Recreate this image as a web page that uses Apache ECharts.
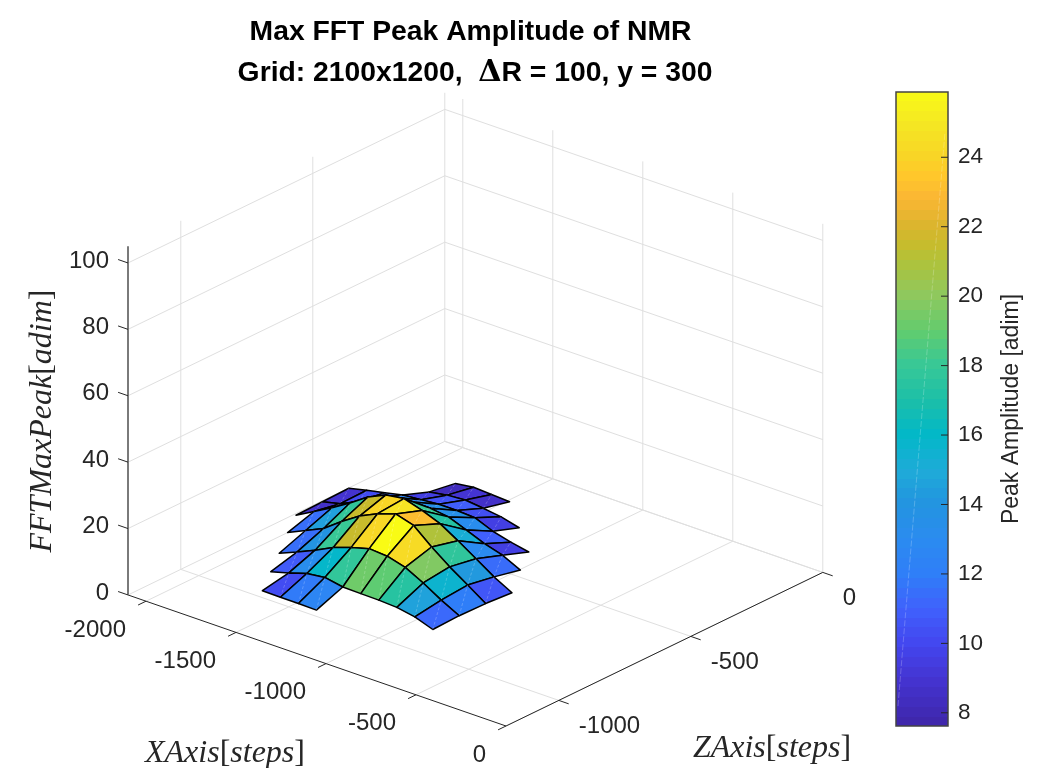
<!DOCTYPE html>
<html>
<head>
<meta charset="utf-8">
<style>
  html, body { margin: 0; padding: 0; background: #fff; }
  #chart { width: 1037px; height: 768px; }
</style>
<script src="https://cdn.jsdelivr.net/npm/echarts@6/dist/echarts.min.js"></script>
</head>
<body>
<div id="chart"></div>
<script>
// grid positions of the surface, in steps
var xSteps = [-1900, -1800, -1700, -1600, -1500, -1400, -1300, -1200, -1100, -1000, -900, -800, -700]
var zSteps = [-1100, -1000, -900, -800, -700, -600, -500, -400, -300]

// peak amplitude, one row per zSteps entry, one column per xSteps entry
var row0 = [null, null, null, null, 8.7, 8.6, 8.6, 8.5, null, null, null, null, null]
var row1 = [null, null, null, 8.7, 10.2, 11.9, 12.6, 11.6, 11.5, 11.4, 11.1, 10.1, 8.2]
var row2 = [null, null, 8.5, 10.8, 13.2, 15.9, 17.8, 19.3, 18.9, 17.4, 14.6, 11.3, 8.5]
var row3 = [null, 9, 11.5, 14, 18, 21.5, 24.1, 25.9, 24.3, 19.7, 15.6, 12, 8.3]
var row4 = [8.5, 11.5, 14.5, 17.8, 21.5, 24, 24.8, 23.1, 21, 17.7, 14.2, 10.6, 7.7]
var row5 = [8.7, 10, 12.5, 15.5, 17.5, 18, 18, 17.3, 15.2, 13, 11.4, 8.8, null]
var row6 = [8.9, 10.2, 11.3, 12.5, 13, 13.5, 13.5, 13.2, 11, 9.6, 8.5, null, null]
var row7 = [null, null, null, 9.6, 10.5, 10.9, 10.3, 9.6, 8.2, null, null, null, null]
var row8 = [null, null, null, 8.3, 9, 8.7, 8.4, null, null, null, null, null, null]
var peakRows = [row0, row1, row2, row3, row4, row5, row6, row7, row8]

// axes
var xTicks = [-2000, -1500, -1000, -500, 0]
var zTicks = [-1000, -500, 0]
var yTicks = [0, 20, 40, 60, 80, 100]
var barTicks = [8, 10, 12, 14, 16, 18, 20, 22, 24]
var xMin = -2100
var zMin = -1200
var yTop = 105
var barMin = 7.62
var barMax = 25.88

// colormap anchors
var mapValues = [7.62, 9, 10, 11, 12, 13, 14, 15, 16, 17, 18, 19, 20, 21, 21.5, 22, 22.8, 23.5, 24, 25, 25.88]
var mapColors = ['#3e26a8', '#4434d2', '#4347ef', '#4060fc', '#2f7ef8', '#2b8bf0', '#2394e0', '#1eabd8', '#02b8c8',
  '#1cbfa8', '#38c896', '#62cc6e', '#8ec85e', '#b0c23a', '#c8bb2c', '#dbb52e', '#fbb634', '#ffc82a', '#f8d526', '#f5e823', '#f9fb15']

var axisColor = '#262626'
var gridColor = '#dfdfdf'
var tickFont = '24px "Liberation Sans", Arial, sans-serif'

function toRgb(hex) {
  return [parseInt(hex.slice(1, 3), 16), parseInt(hex.slice(3, 5), 16), parseInt(hex.slice(5, 7), 16)]
}

function colorOf(v) {
  var k = 0
  while (k < mapValues.length - 2 && v > mapValues[k + 1]) k++
  var t = Math.min(1, Math.max(0, (v - mapValues[k]) / (mapValues[k + 1] - mapValues[k])))
  var a = toRgb(mapColors[k])
  var b = toRgb(mapColors[k + 1])
  return 'rgb(' + a.map(function (c, n) { return Math.round(c + (b[n] - c) * t) }).join(',') + ')'
}

// oblique view of the box, result is in the units of the hidden cartesian axes
function project(x, y, z) {
  var w = z - zMin
  return [506 + 0.18 * x + 0.264 * w, 726 + 0.0624 * x - 0.128 * w - 3.32 * y]
}

function lineShape(api, a, b, color, width) {
  var p = api.coord(project(a[0], a[1], a[2]))
  var q = api.coord(project(b[0], b[1], b[2]))
  return {
    type: 'line',
    shape: { x1: p[0], y1: p[1], x2: q[0], y2: q[1] },
    style: { stroke: color, lineWidth: width }
  }
}

function labelAt(api, at, dx, dy, text, align) {
  var p = api.coord(project(at[0], at[1], at[2]))
  return {
    type: 'text',
    style: { x: p[0] + dx, y: p[1] + dy, text: text, font: tickFont, fill: axisColor, align: align, verticalAlign: 'middle' }
  }
}

function renderGrid(params, api) {
  var kids = []
  xTicks.forEach(function (x) {
    kids.push(lineShape(api, [x, 0, zMin], [x, 0, 0], gridColor, 1))
    kids.push(lineShape(api, [x, 0, 0], [x, yTop, 0], gridColor, 1))
  })
  zTicks.forEach(function (z) {
    kids.push(lineShape(api, [xMin, 0, z], [0, 0, z], gridColor, 1))
    kids.push(lineShape(api, [xMin, 0, z], [xMin, yTop, z], gridColor, 1))
  })
  yTicks.forEach(function (y) {
    kids.push(lineShape(api, [xMin, y, zMin], [xMin, y, 0], gridColor, 1))
    kids.push(lineShape(api, [xMin, y, 0], [0, y, 0], gridColor, 1))
  })
  return { type: 'group', children: kids }
}

function renderAxes(params, api) {
  var kids = []
  kids.push(lineShape(api, [xMin, 0, zMin], [0, 0, zMin], axisColor, 1))
  kids.push(lineShape(api, [0, 0, zMin], [0, 0, 0], axisColor, 1))
  kids.push(lineShape(api, [xMin, 0, zMin], [xMin, yTop, zMin], '#7a7a7a', 2))
  xTicks.forEach(function (x) {
    kids.push(lineShape(api, [x, 0, zMin], [x, 0, zMin - 30], axisColor, 1))
    kids.push(labelAt(api, [x, 0, zMin], -20, 29, String(x), 'right'))
  })
  zTicks.forEach(function (z) {
    kids.push(lineShape(api, [0, 0, z], [55, 0, z], axisColor, 1))
    kids.push(labelAt(api, [0, 0, z], 20, 26, String(z), 'left'))
  })
  yTicks.forEach(function (y) {
    kids.push(lineShape(api, [xMin, y, zMin], [xMin - 55, y, zMin], axisColor, 1))
    kids.push(labelAt(api, [xMin, y, zMin], -19, -2, String(y), 'right'))
  })
  return { type: 'group', children: kids }
}

// faces listed back to front so the nearer ones paint over the farther ones
var faces = []
for (var j = zSteps.length - 2; j >= 0; j--) {
  for (var i = 0; i < xSteps.length - 1; i++) {
    if (peakRows[j][i] !== null && peakRows[j][i + 1] !== null && peakRows[j + 1][i] !== null && peakRows[j + 1][i + 1] !== null) {
      faces.push([i, j])
    }
  }
}

function renderFace(params, api) {
  var i = api.value(0)
  var j = api.value(1)
  var corner = function (a, b) {
    return api.coord(project(xSteps[a], peakRows[b][a], zSteps[b]))
  }
  var p0 = corner(i, j)
  var p1 = corner(i + 1, j)
  var p2 = corner(i + 1, j + 1)
  var p3 = corner(i, j + 1)
  return {
    type: 'group',
    children: [
      {
        type: 'polygon',
        shape: { points: [p0, p1, p2, p3] },
        style: { fill: colorOf(peakRows[j + 1][i]), stroke: '#000', lineWidth: 1.5, lineJoin: 'round' }
      },
      {
        // faint triangle seam left by the renderer
        type: 'line',
        shape: { x1: p1[0], y1: p1[1], x2: p3[0], y2: p3[1] },
        style: { stroke: 'rgba(255,255,255,0.22)', lineWidth: 1, lineDash: [3, 2] }
      }
    ]
  }
}

function renderBar(params, api) {
  var a = api.coord([0, barMin])
  var b = api.coord([1, barMax])
  var stops = []
  var bands = 64
  for (var k = 0; k < bands; k++) {
    var c = colorOf(barMin + (barMax - barMin) * (k + 0.5) / bands)
    stops.push({ offset: k / bands, color: c })
    stops.push({ offset: (k + 1) / bands, color: c })
  }
  var kids = [
    {
      type: 'rect',
      shape: { x: a[0], y: b[1], width: b[0] - a[0], height: a[1] - b[1] },
      style: { fill: new echarts.graphic.LinearGradient(0, 1, 0, 0, stops), stroke: '#444', lineWidth: 1.5 }
    },
    {
      type: 'line',
      shape: { x1: a[0] + 2, y1: a[1] - 20, x2: b[0] - 3, y2: b[1] + 40 },
      style: { stroke: 'rgba(255,255,255,0.22)', lineWidth: 1, lineDash: [6, 2] }
    }
  ]
  barTicks.forEach(function (v) {
    var p = api.coord([1, v])
    kids.push({
      type: 'line',
      shape: { x1: p[0] - 7, y1: p[1], x2: p[0], y2: p[1] },
      style: { stroke: axisColor, lineWidth: 1 }
    })
  })
  return { type: 'group', children: kids }
}

var mathStyle = {
  i: { fontFamily: '"Liberation Serif", serif', fontStyle: 'italic', fontSize: 32, fill: axisColor },
  r: { fontFamily: '"Liberation Serif", serif', fontSize: 32, fill: axisColor }
}

var chart = echarts.init(document.getElementById('chart'), null, { renderer: 'canvas' })
chart.setOption({
  animation: false,
  backgroundColor: '#fff',
  title: [
    {
      text: 'Max FFT Peak Amplitude of NMR',
      left: 470.5,
      top: 18,
      padding: 0,
      textAlign: 'center',
      textStyle: { fontFamily: '"Liberation Sans", Arial, sans-serif', fontWeight: 'bold', fontSize: 28.3, color: '#000' }
    },
    {
      text: '{b|Grid: 2100x1200,  }{d|Δ}{b|R = 100, y = 300}',
      left: 475,
      top: 58,
      padding: 0,
      textAlign: 'center',
      textStyle: {
        rich: {
          b: { fontFamily: '"Liberation Sans", Arial, sans-serif', fontWeight: 'bold', fontSize: 28.3, color: '#000' },
          d: { fontFamily: '"DejaVu Serif", serif', fontSize: 30, color: '#000' }
        }
      }
    }
  ],
  grid: [
    { left: 0, top: 0, width: 1037, height: 768 },
    { left: 896, top: 92, width: 52, height: 634 }
  ],
  xAxis: [
    { type: 'value', gridIndex: 0, min: 0, max: 1037, show: false },
    { type: 'value', gridIndex: 1, min: 0, max: 1, show: false }
  ],
  yAxis: [
    { type: 'value', gridIndex: 0, min: 0, max: 768, inverse: true, show: false },
    {
      type: 'value',
      gridIndex: 1,
      min: barMin,
      max: barMax,
      position: 'right',
      splitLine: { show: false },
      axisLine: { show: false },
      axisTick: { show: false },
      axisLabel: {
        customValues: barTicks,
        margin: 10,
        padding: [4, 0, 0, 0],
        color: axisColor,
        fontSize: 22.5,
        fontFamily: '"Liberation Sans", Arial, sans-serif'
      },
      name: 'Peak Amplitude [adim]',
      nameLocation: 'middle',
      nameRotate: 90,
      nameGap: 52,
      nameTextStyle: { color: axisColor, fontSize: 23, fontFamily: '"Liberation Sans", Arial, sans-serif' }
    }
  ],
  graphic: [
    { type: 'text', x: 225, y: 754, style: { text: '{i|XAxis}{r|[}{i|steps}{r|]}', rich: mathStyle, align: 'center', verticalAlign: 'middle' } },
    { type: 'text', x: 772, y: 749, style: { text: '{i|ZAxis}{r|[}{i|steps}{r|]}', rich: mathStyle, align: 'center', verticalAlign: 'middle' } },
    { type: 'text', x: 43, y: 421, rotation: Math.PI / 2, style: { text: '{i|FFTMaxPeak}{r|[}{i|adim}{r|]}', rich: mathStyle, align: 'center', verticalAlign: 'middle' } }
  ],
  series: [
    { type: 'custom', xAxisIndex: 0, yAxisIndex: 0, data: [[0]], renderItem: renderGrid, silent: true, clip: false, z: 1 },
    { type: 'custom', xAxisIndex: 0, yAxisIndex: 0, data: [[0]], renderItem: renderAxes, silent: true, clip: false, z: 2 },
    { type: 'custom', xAxisIndex: 0, yAxisIndex: 0, data: faces, renderItem: renderFace, silent: true, clip: false, z: 3 },
    { type: 'custom', xAxisIndex: 1, yAxisIndex: 1, data: [[0]], renderItem: renderBar, silent: true, clip: false, z: 3 }
  ]
})
</script>
</body>
</html>
